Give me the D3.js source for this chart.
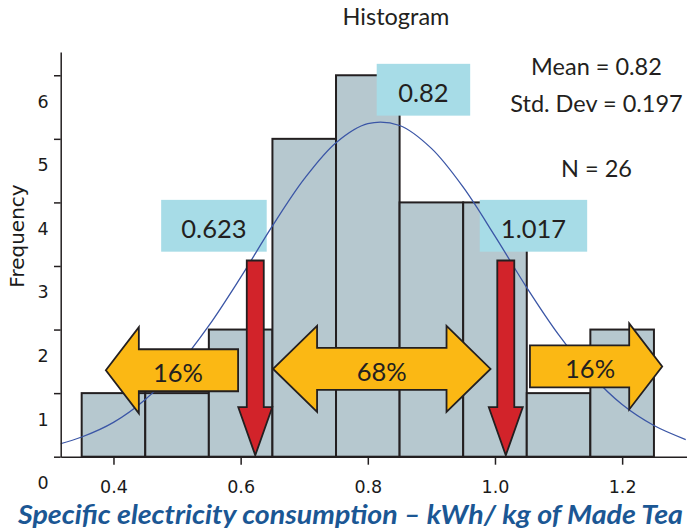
<!DOCTYPE html>
<html>
<head>
<meta charset="utf-8">
<script src="https://cdn.jsdelivr.net/npm/d3@7"></script>
<style>
  body { margin: 0; background: #fff; }
  svg { display: block; }
</style>
</head>
<body>
<div id="chart"></div>
<script>
// Histogram data
const binStart = [0.35, 0.45, 0.55, 0.65, 0.75, 0.85, 0.95, 1.05, 1.15];
const binWidth = 0.1;
const counts = [1, 1, 2, 5, 6, 4, 4, 1, 2];

// Normal curve overlay
const curveX = [0.30, 0.35, 0.40, 0.45, 0.50, 0.55, 0.60, 0.65, 0.70, 0.75, 0.80,
                0.85, 0.90, 0.95, 1.00, 1.05, 1.10, 1.15, 1.20, 1.25, 1.30];
const curveY = [0.16, 0.31, 0.54, 0.90, 1.41, 2.06, 2.82, 3.63, 4.37, 4.94, 5.24,
                5.21, 4.85, 4.24, 3.47, 2.66, 1.92, 1.30, 0.82, 0.49, 0.27];

// Ticks
const xTicks = [0.4, 0.6, 0.8, 1.0, 1.2];
const yTicks = [0, 1, 2, 3, 4, 5, 6];

// Annotations
const statLines = ["Mean = 0.82", "Std. Dev = 0.197", "N = 26"];
const markLabels = ["0.623", "0.82", "1.017"];
const limitValues = [0.623, 1.017];
const pctLabels = ["16%", "68%", "16%"];

// Layout
const W = 687, H = 532;
const x = d3.scaleLinear().domain([0.317, 1.302]).range([60.7, 687]);
const y = d3.scaleLinear().domain([0, 6.366]).range([456.7, 52]);

const ink = "#231f20";

// Annotation boxes (data units)
const boxes = [
  { x0: 0.475, x1: 0.641, top: 4.04, bottom: 3.225 },
  { x0: 0.814, x1: 0.961, top: 6.18, bottom: 5.365 },
  { x0: 0.976, x1: 1.145, top: 4.04, bottom: 3.225 }
];

// Yellow percentage arrows (data units)
const pctArrows = [
  { x0: 0.388, x1: 0.596, level: 1.36, left: true,  right: false, head: 33, dx: 6 },
  { x0: 0.651, x1: 0.993, level: 1.38, left: true,  right: true,  head: 44, dx: 0 },
  { x0: 1.055, x1: 1.263, level: 1.42, left: false, right: true,  head: 33, dx: -6 }
];

const svg = d3.select("#chart")
  .append("svg")
  .attr("width", W)
  .attr("height", H);

svg.append("defs").append("clipPath")
  .attr("id", "plot-clip")
  .append("rect")
  .attr("x", 60.7)
  .attr("y", 0)
  .attr("width", W - 60.7)
  .attr("height", y(0));

// Bars
svg.append("g")
  .selectAll("rect")
  .data(counts)
  .enter().append("rect")
  .attr("x", (d, i) => x(binStart[i]))
  .attr("y", d => y(d))
  .attr("width", (d, i) => x(binStart[i] + binWidth) - x(binStart[i]))
  .attr("height", d => y(0) - y(d))
  .attr("fill", "#b6c8cf")
  .attr("stroke", ink)
  .attr("stroke-width", 2);

// Value boxes
const boxG = svg.append("g");
boxes.forEach((b, i) => {
  boxG.append("rect")
    .attr("x", x(b.x0))
    .attr("y", y(b.top))
    .attr("width", x(b.x1) - x(b.x0))
    .attr("height", y(b.bottom) - y(b.top))
    .attr("fill", "#a7dce7");
  boxG.append("text")
    .attr("x", (x(b.x0) + x(b.x1)) / 2)
    .attr("y", y(b.top) + 37.7)
    .attr("text-anchor", "middle")
    .style("font-family", "Lato, 'Open Sans', sans-serif")
    .style("font-size", "25.5px")
    .style("fill", ink)
    .text(markLabels[i]);
});

// Normal curve
const line = d3.line()
  .x(d => x(d[0]))
  .y(d => y(d[1]))
  .curve(d3.curveCatmullRom);

svg.append("path")
  .datum(curveX.map((v, i) => [v, curveY[i]]))
  .attr("clip-path", "url(#plot-clip)")
  .attr("fill", "none")
  .attr("stroke", "#3b56a6")
  .attr("stroke-width", 1.3)
  .attr("d", line);

// Axes
const xAxis = svg.append("g")
  .attr("transform", `translate(0,${y(0)})`)
  .call(d3.axisBottom(x).tickValues(xTicks).tickFormat(d3.format(".1f")).tickSize(8).tickSizeOuter(0));

const yAxis = svg.append("g")
  .attr("transform", "translate(60.7,0)")
  .call(d3.axisLeft(y).tickValues(yTicks).tickFormat(d3.format("d")).tickSize(6.7).tickSizeOuter(0));

[xAxis, yAxis].forEach(g => {
  g.select(".domain").attr("stroke", ink).attr("stroke-width", 1.5);
  g.selectAll(".tick line").attr("stroke", ink).attr("stroke-width", 1.5);
  g.selectAll(".tick text")
    .style("font-family", "'DejaVu Sans', sans-serif")
    .style("font-size", "17.5px")
    .style("fill", "#1a1a1a");
});
xAxis.selectAll(".tick text").attr("y", 24);
yAxis.selectAll(".tick text")
  .attr("x", -17.7)
  .attr("y", 26.4)
  .attr("text-anchor", "middle");

// Red limit arrows
const redG = svg.append("g");
limitValues.forEach(v => {
  const cx = x(v), top = 260.5, tip = y(0) - 1.5, headTop = tip - 48;
  const sh = 8.5, hh = 17;
  const p = `M${cx - sh},${top} L${cx + sh},${top} L${cx + sh},${headTop} L${cx + hh},${headTop}
    L${cx},${tip} L${cx - hh},${headTop} L${cx - sh},${headTop} Z`;
  redG.append("path")
    .attr("d", p)
    .attr("fill", "#d2232a")
    .attr("stroke", ink)
    .attr("stroke-width", 1.8)
    .attr("stroke-linejoin", "miter");
});

// Yellow percentage arrows
const yelG = svg.append("g");
pctArrows.forEach((a, i) => {
  const x0 = x(a.x0), x1 = x(a.x1), cy = y(a.level);
  const hl = a.head, hh = 43, sh = 21;
  const L = a.left ? x0 + hl : x0;
  const R = a.right ? x1 - hl : x1;
  let p = "";
  if (a.left) {
    p += `M${x0},${cy} L${L},${cy - hh} L${L},${cy - sh} `;
  } else {
    p += `M${x0},${cy + sh} L${x0},${cy - sh} `;
  }
  if (a.right) {
    p += `L${R},${cy - sh} L${R},${cy - hh} L${x1},${cy} L${R},${cy + hh} L${R},${cy + sh} `;
  } else {
    p += `L${x1},${cy - sh} L${x1},${cy + sh} `;
  }
  if (a.left) {
    p += `L${L},${cy + sh} L${L},${cy + hh} Z`;
  } else {
    p += "Z";
  }
  yelG.append("path")
    .attr("d", p)
    .attr("fill", "#fbb814")
    .attr("stroke", ink)
    .attr("stroke-width", 1.8)
    .attr("stroke-linejoin", "miter");
  yelG.append("text")
    .attr("x", (x0 + x1) / 2 + a.dx)
    .attr("y", cy + 12)
    .attr("text-anchor", "middle")
    .style("font-family", "Lato, 'Open Sans', sans-serif")
    .style("font-size", "25.5px")
    .style("fill", ink)
    .text(pctLabels[i]);
});

// Statistics
const statY = [75, 111.7, 176.7];
statLines.forEach((s, i) => {
  svg.append("text")
    .attr("x", 596.5)
    .attr("y", statY[i])
    .attr("text-anchor", "middle")
    .style("font-family", "Lato, 'Open Sans', sans-serif")
    .style("font-size", "23.5px")
    .style("fill", ink)
    .text(s);
});

// Title
svg.append("text")
  .attr("x", 396)
  .attr("y", 25)
  .attr("text-anchor", "middle")
  .style("font-family", "Lato, 'Open Sans', sans-serif")
  .style("font-size", "23.5px")
  .style("fill", ink)
  .text("Histogram");

// Y-axis label
svg.append("text")
  .attr("transform", "translate(24,236) rotate(-90)")
  .attr("text-anchor", "middle")
  .style("font-family", "'DejaVu Sans', sans-serif")
  .style("font-size", "20px")
  .style("fill", "#1a1a1a")
  .text("Frequency");

// X-axis label
svg.append("text")
  .attr("x", 18)
  .attr("y", 524)
  .attr("textLength", 665)
  .attr("lengthAdjust", "spacingAndGlyphs")
  .style("font-family", "Lato, 'Open Sans', sans-serif")
  .style("font-size", "26.5px")
  .style("font-weight", "bold")
  .style("font-style", "italic")
  .style("fill", "#1b5794")
  .text("Specific electricity consumption – kWh/ kg of Made Tea");
</script>
</body>
</html>
